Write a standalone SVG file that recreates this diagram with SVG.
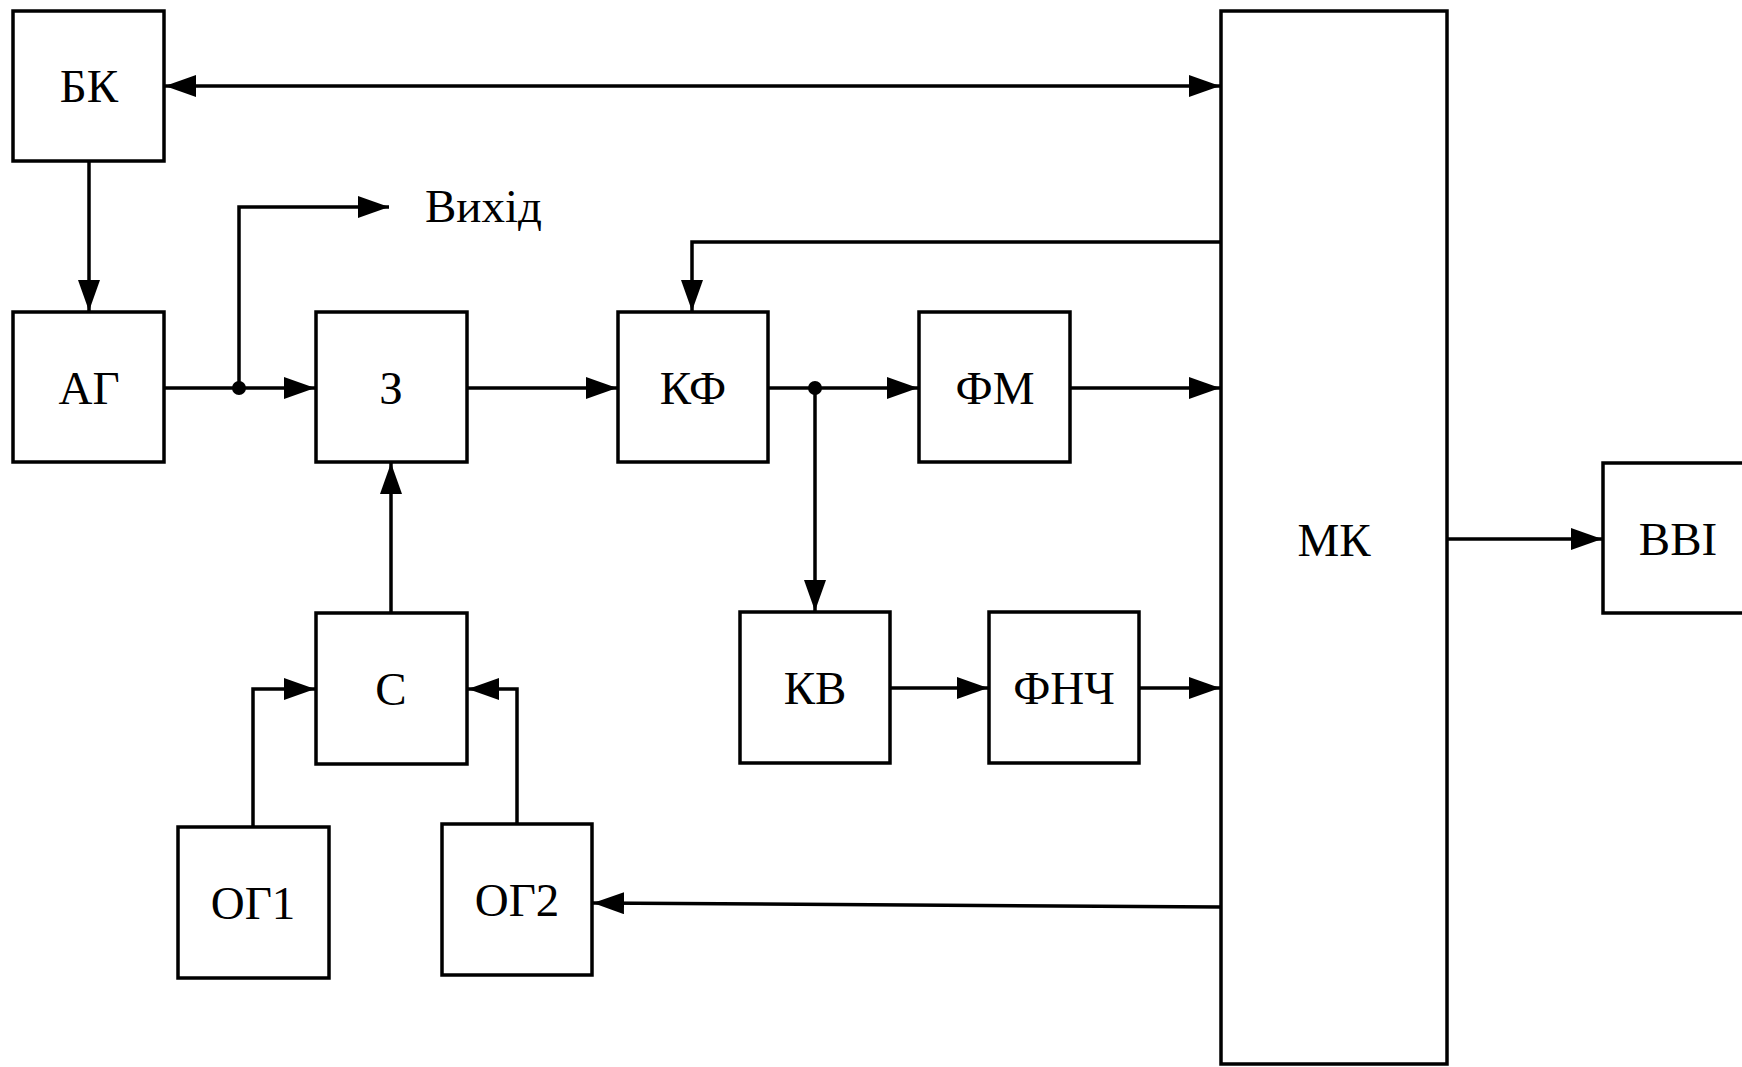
<svg xmlns="http://www.w3.org/2000/svg" width="1742" height="1067" viewBox="0 0 1742 1067">
<style>
.box{fill:#fff;stroke:#000;stroke-width:3.5}
.lbl{font-family:"Liberation Serif","Times New Roman",serif;font-size:47px;fill:#000;text-anchor:middle}
.ln{fill:none;stroke:#000;stroke-width:3.5}
</style>
<defs>
<marker id="ah" markerUnits="userSpaceOnUse" markerWidth="31" markerHeight="22" refX="31" refY="11" orient="auto-start-reverse" viewBox="0 0 31 22">
<path d="M0,0 L31,11 L0,22 z" fill="#000"/>
</marker>
</defs>
<rect width="1742" height="1067" fill="#fff"/>
<g id="connectors">
<line class="ln" x1="165" y1="86" x2="1220" y2="86" marker-start="url(#ah)" marker-end="url(#ah)"/>
<line class="ln" x1="89" y1="161" x2="89" y2="311" marker-end="url(#ah)"/>
<line class="ln" x1="164" y1="388" x2="315" y2="388" marker-end="url(#ah)"/>
<polyline class="ln" points="239,388 239,207 389,207" marker-end="url(#ah)"/>
<circle cx="239" cy="388" r="7" fill="#000"/>
<line class="ln" x1="467" y1="388" x2="617" y2="388" marker-end="url(#ah)"/>
<polyline class="ln" points="1221,242 692,242 692,311" marker-end="url(#ah)"/>
<line class="ln" x1="768" y1="388" x2="918" y2="388" marker-end="url(#ah)"/>
<circle cx="815" cy="388" r="7" fill="#000"/>
<line class="ln" x1="815" y1="388" x2="815" y2="611" marker-end="url(#ah)"/>
<line class="ln" x1="1070" y1="388" x2="1220" y2="388" marker-end="url(#ah)"/>
<line class="ln" x1="890" y1="688" x2="988" y2="688" marker-end="url(#ah)"/>
<line class="ln" x1="1139" y1="688" x2="1220" y2="688" marker-end="url(#ah)"/>
<line class="ln" x1="391" y1="613" x2="391" y2="463" marker-end="url(#ah)"/>
<polyline class="ln" points="253,827 253,689 315,689" marker-end="url(#ah)"/>
<polyline class="ln" points="517,824 517,689 468,689" marker-end="url(#ah)"/>
<line class="ln" x1="1221" y1="907" x2="593" y2="903" marker-end="url(#ah)"/>
<line class="ln" x1="1447" y1="539" x2="1602" y2="539" marker-end="url(#ah)"/>
</g>
<g id="BK"><rect class="box" x="13" y="11" width="151" height="150"/><text class="lbl" x="89" y="102">БК</text></g>
<g id="AG"><rect class="box" x="13" y="312" width="151" height="150"/><text class="lbl" x="89" y="404">АГ</text></g>
<g id="Z"><rect class="box" x="316" y="312" width="151" height="150"/><text class="lbl" x="391" y="404">З</text></g>
<g id="KF"><rect class="box" x="618" y="312" width="150" height="150"/><text class="lbl" x="693" y="404">КФ</text></g>
<g id="FM"><rect class="box" x="919" y="312" width="151" height="150"/><text class="lbl" x="995" y="404">ФМ</text></g>
<g id="S"><rect class="box" x="316" y="613" width="151" height="151"/><text class="lbl" x="391" y="705">С</text></g>
<g id="KV"><rect class="box" x="740" y="612" width="150" height="151"/><text class="lbl" x="815" y="704">КВ</text></g>
<g id="FNCH"><rect class="box" x="989" y="612" width="150" height="151"/><text class="lbl" x="1064" y="704">ФНЧ</text></g>
<g id="OG1"><rect class="box" x="178" y="827" width="151" height="151"/><text class="lbl" x="253" y="919">ОГ1</text></g>
<g id="OG2"><rect class="box" x="442" y="824" width="150" height="151"/><text class="lbl" x="517" y="916">ОГ2</text></g>
<g id="MK"><rect class="box" x="1221" y="11" width="226" height="1053"/><text class="lbl" x="1334" y="556">МК</text></g>
<g id="VVI"><rect class="box" x="1603" y="463" width="152" height="150"/><text class="lbl" x="1678" y="555">ВВІ</text></g>
<g id="out"><text class="lbl" x="425" y="222" style="text-anchor:start">Вихід</text></g>
</svg>
